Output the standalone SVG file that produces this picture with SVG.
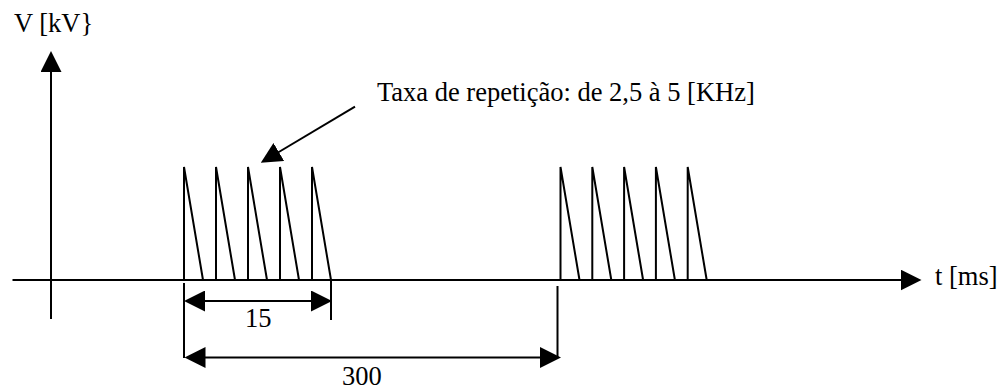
<svg xmlns="http://www.w3.org/2000/svg" width="1005" height="389" viewBox="0 0 1005 389">
<style>
.ln{stroke:#000;stroke-width:2;fill:none}
.arr{marker-end:url(#ah)}
.dim{marker-start:url(#ah);marker-end:url(#ah)}
.tx{font-family:"Liberation Serif","Times New Roman",serif;font-size:26.5px;fill:#000}
</style>
<defs>
<marker id="ah" viewBox="0 0 21 21" refX="1" refY="10.5" markerWidth="21" markerHeight="21" markerUnits="userSpaceOnUse" orient="auto-start-reverse">
<path d="M0,0 L21,10.5 L0,21 z" fill="#000"/>
</marker>
</defs>
<rect width="1005" height="389" fill="#fff"/>
<g id="axes">
<line class="ln arr" x1="12.5" y1="280" x2="901.5" y2="280"/>
<line class="ln arr" x1="51" y1="319" x2="51" y2="71"/>
</g>
<g id="pulses-group-1">
<polyline class="ln" points="184,280 184,167 203,280"/>
<polyline class="ln" points="216,280 216,167 235,280"/>
<polyline class="ln" points="248,280 248,167 267,280"/>
<polyline class="ln" points="280,280 280,167 299,280"/>
<polyline class="ln" points="312,280 312,167 331,280"/>
</g>
<g id="pulses-group-2">
<polyline class="ln" points="560.5,280 560.5,167 579.5,280"/>
<polyline class="ln" points="592.3,280 592.3,167 611.3,280"/>
<polyline class="ln" points="624.1,280 624.1,167 643.1,280"/>
<polyline class="ln" points="655.9,280 655.9,167 674.9,280"/>
<polyline class="ln" points="687.7,280 687.7,167 706.7,280"/>
</g>
<g id="connectors">
<line class="ln" x1="184" y1="283" x2="184" y2="358"/>
<line class="ln" x1="331" y1="280" x2="331" y2="320"/>
<line class="ln" x1="557.5" y1="286" x2="557.5" y2="357"/>
<line class="ln dim" x1="204" y1="301" x2="312" y2="301"/>
<line class="ln dim" x1="204.5" y1="357.5" x2="541" y2="357.5"/>
<line class="ln arr" x1="355" y1="106.7" x2="278" y2="152.5"/>
</g>
<g id="labels">
<text class="tx" x="14" y="32">V [kV}</text>
<text class="tx" x="377" y="101">Taxa de repetição: de 2,5 à 5 [KHz]</text>
<text class="tx" x="245" y="327">15</text>
<text class="tx" x="342" y="385">300</text>
<text class="tx" x="935" y="285">t [ms]</text>
</g>
</svg>
